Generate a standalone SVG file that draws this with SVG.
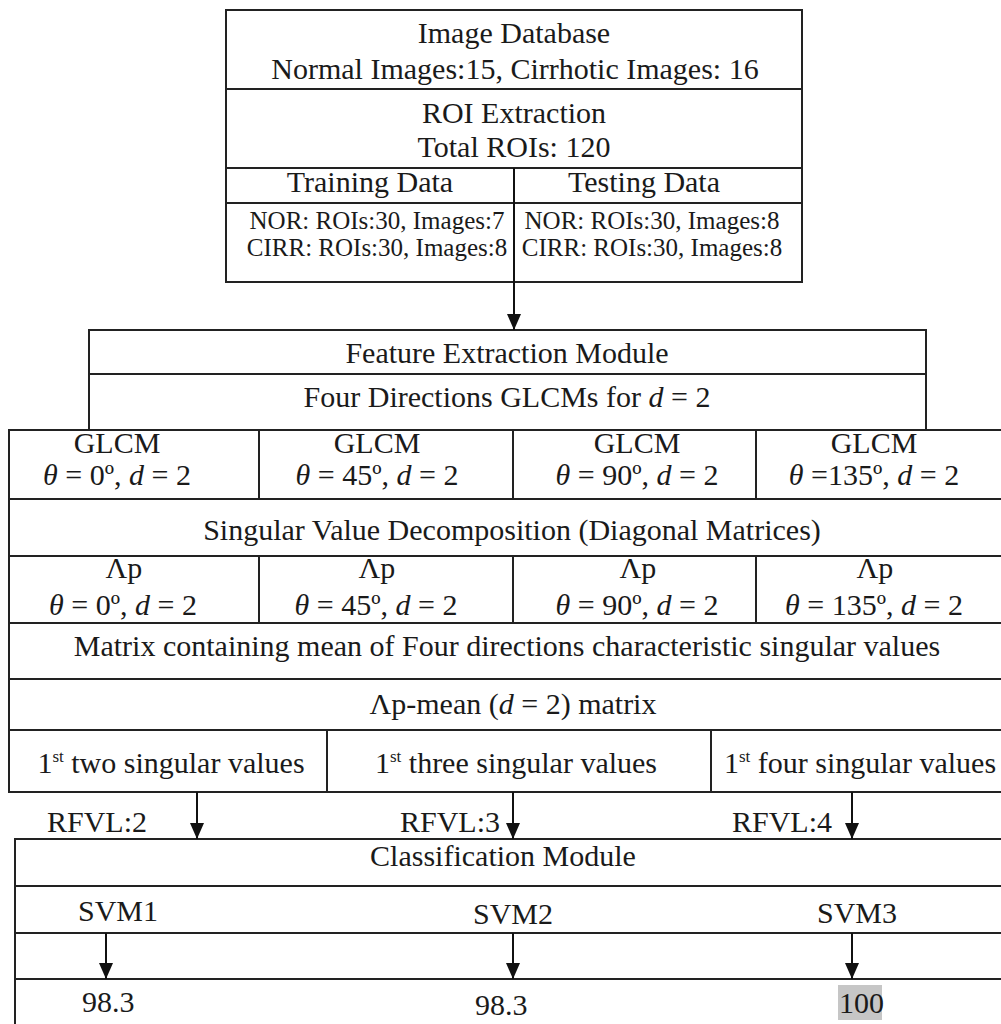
<svg xmlns="http://www.w3.org/2000/svg" width="1001" height="1024" viewBox="0 0 1001 1024">
  <style>
    .box { fill: none; stroke: #222; stroke-width: 2; }
    .ln { stroke: #222; stroke-width: 2; fill: none; }
    .t { font-family: "Liberation Serif", "Times New Roman", serif; font-size: 30px; fill: #1a1a1a; }
    .s { font-family: "Liberation Serif", "Times New Roman", serif; font-size: 25px; fill: #1a1a1a; }
    .c { text-anchor: middle; }
    .i { font-style: italic; }
    .sup { font-size: 17px; }
    .arr { stroke: #111; stroke-width: 2; fill: none; marker-end: url(#head); }
  </style>
  <defs>
    <marker id="head" markerUnits="userSpaceOnUse" markerWidth="16" markerHeight="14" viewBox="0 0 16 14" refX="16" refY="7" orient="auto">
      <path d="M0,0 L16,7 L0,14 Z" fill="#111"/>
    </marker>
  </defs>
  <rect width="1001" height="1024" fill="#fff"/>

  <!-- Image database / ROI / data split -->
  <g id="database">
    <rect class="box" x="226" y="10" width="576" height="272"/>
    <line class="ln" x1="226" y1="89" x2="802" y2="89"/>
    <line class="ln" x1="226" y1="168" x2="802" y2="168"/>
    <line class="ln" x1="226" y1="203" x2="802" y2="203"/>
    <text class="t c" x="514" y="43">Image Database</text>
    <text class="t c" x="515" y="79">Normal Images:15, Cirrhotic Images: 16</text>
    <text class="t c" x="514" y="123">ROI Extraction</text>
    <text class="t c" x="514" y="157">Total ROIs: 120</text>
    <text class="t c" x="370" y="192">Training Data</text>
    <text class="t c" x="644" y="192">Testing Data</text>
    <text class="s c" x="377" y="229">NOR: ROIs:30, Images:7</text>
    <text class="s c" x="377" y="256">CIRR: ROIs:30, Images:8</text>
    <text class="s c" x="652" y="229">NOR: ROIs:30, Images:8</text>
    <text class="s c" x="652" y="256">CIRR: ROIs:30, Images:8</text>
  </g>

  <!-- Feature extraction module -->
  <g id="feature-extraction">
    <rect class="box" x="89" y="330" width="837" height="100"/>
    <line class="ln" x1="89" y1="374" x2="926" y2="374"/>
    <text class="t c" x="507" y="363">Feature Extraction Module</text>
    <text class="t c" x="507" y="407">Four Directions GLCMs for <tspan class="i">d</tspan> = 2</text>
  </g>

  <!-- GLCM per direction -->
  <g id="glcm">
    <rect class="box" x="9" y="430" width="1000" height="69"/>
    <line class="ln" x1="259" y1="430" x2="259" y2="499"/>
    <line class="ln" x1="513" y1="430" x2="513" y2="499"/>
    <line class="ln" x1="756" y1="430" x2="756" y2="499"/>
    <text class="t c" x="117" y="453">GLCM</text>
    <text class="t c" x="117" y="485"><tspan class="i">θ</tspan> = 0º, <tspan class="i">d</tspan> = 2</text>
    <text class="t c" x="377" y="453">GLCM</text>
    <text class="t c" x="377" y="485"><tspan class="i">θ</tspan> = 45º, <tspan class="i">d</tspan> = 2</text>
    <text class="t c" x="637" y="453">GLCM</text>
    <text class="t c" x="637" y="485"><tspan class="i">θ</tspan> = 90º, <tspan class="i">d</tspan> = 2</text>
    <text class="t c" x="874" y="453">GLCM</text>
    <text class="t c" x="874" y="485"><tspan class="i">θ</tspan> =135º, <tspan class="i">d</tspan> = 2</text>
  </g>

  <!-- SVD -->
  <g id="svd">
    <rect class="box" x="9" y="499" width="1000" height="57"/>
    <text class="t c" x="512" y="540">Singular Value Decomposition (Diagonal Matrices)</text>
  </g>

  <!-- Diagonal matrices per direction -->
  <g id="diagonal">
    <rect class="box" x="9" y="556" width="1000" height="67"/>
    <line class="ln" x1="259" y1="556" x2="259" y2="623"/>
    <line class="ln" x1="513" y1="556" x2="513" y2="623"/>
    <line class="ln" x1="756" y1="556" x2="756" y2="623"/>
    <text class="t c" x="124" y="578">Λp</text>
    <text class="t c" x="123" y="615"><tspan class="i">θ</tspan> = 0º, <tspan class="i">d</tspan> = 2</text>
    <text class="t c" x="377" y="578">Λp</text>
    <text class="t c" x="376" y="615"><tspan class="i">θ</tspan> = 45º, <tspan class="i">d</tspan> = 2</text>
    <text class="t c" x="638" y="578">Λp</text>
    <text class="t c" x="637" y="615"><tspan class="i">θ</tspan> = 90º, <tspan class="i">d</tspan> = 2</text>
    <text class="t c" x="875" y="578">Λp</text>
    <text class="t c" x="874" y="615"><tspan class="i">θ</tspan> = 135º, <tspan class="i">d</tspan> = 2</text>
  </g>

  <!-- Mean matrix -->
  <g id="mean-matrix">
    <rect class="box" x="9" y="623" width="1000" height="56"/>
    <text class="t c" x="507" y="656">Matrix containing mean of Four directions characteristic singular values</text>
  </g>

  <g id="mean-d2">
    <rect class="box" x="9" y="679" width="1000" height="51"/>
    <text class="t c" x="513" y="714">Λp-mean (<tspan class="i">d</tspan> = 2) matrix</text>
  </g>

  <!-- Reduced feature vectors -->
  <g id="singular-values">
    <rect class="box" x="9" y="730" width="1000" height="62"/>
    <line class="ln" x1="327" y1="730" x2="327" y2="792"/>
    <line class="ln" x1="711" y1="730" x2="711" y2="792"/>
    <text class="t c" x="171" y="773">1<tspan class="sup" dy="-11">st</tspan><tspan dy="11"> two singular values</tspan></text>
    <text class="t c" x="516" y="773">1<tspan class="sup" dy="-11">st</tspan><tspan dy="11"> three singular values</tspan></text>
    <text class="t c" x="860" y="773">1<tspan class="sup" dy="-11">st</tspan><tspan dy="11"> four singular values</tspan></text>
  </g>

  <!-- Classification module -->
  <g id="classification">
    <rect class="box" x="15" y="839" width="1000" height="200"/>
    <line class="ln" x1="15" y1="886" x2="1001" y2="886"/>
    <line class="ln" x1="15" y1="933" x2="1001" y2="933"/>
    <line class="ln" x1="15" y1="979" x2="1001" y2="979"/>
    <text class="t c" x="503" y="866">Classification Module</text>
    <text class="t" x="78" y="921">SVM1</text>
    <text class="t" x="473" y="924">SVM2</text>
    <text class="t" x="817" y="923">SVM3</text>
    <rect x="838" y="985" width="44" height="35" fill="#c6c6c6"/>
    <text class="t" x="82" y="1012">98.3</text>
    <text class="t" x="475" y="1015">98.3</text>
    <text class="t" x="839" y="1013">100</text>
  </g>

  <g id="rfvl-labels">
    <text class="t" x="47" y="832">RFVL:2</text>
    <text class="t" x="400" y="832">RFVL:3</text>
    <text class="t" x="732" y="832">RFVL:4</text>
  </g>

  <!-- Connectors -->
  <g id="connectors">
    <line class="arr" x1="514" y1="168" x2="514" y2="330"/>
    <line class="arr" x1="197" y1="792" x2="197" y2="839"/>
    <line class="arr" x1="513" y1="792" x2="513" y2="839"/>
    <line class="arr" x1="852" y1="792" x2="852" y2="839"/>
    <line class="arr" x1="106" y1="933" x2="106" y2="979"/>
    <line class="arr" x1="513" y1="933" x2="513" y2="979"/>
    <line class="arr" x1="852" y1="933" x2="852" y2="979"/>
  </g>
</svg>
